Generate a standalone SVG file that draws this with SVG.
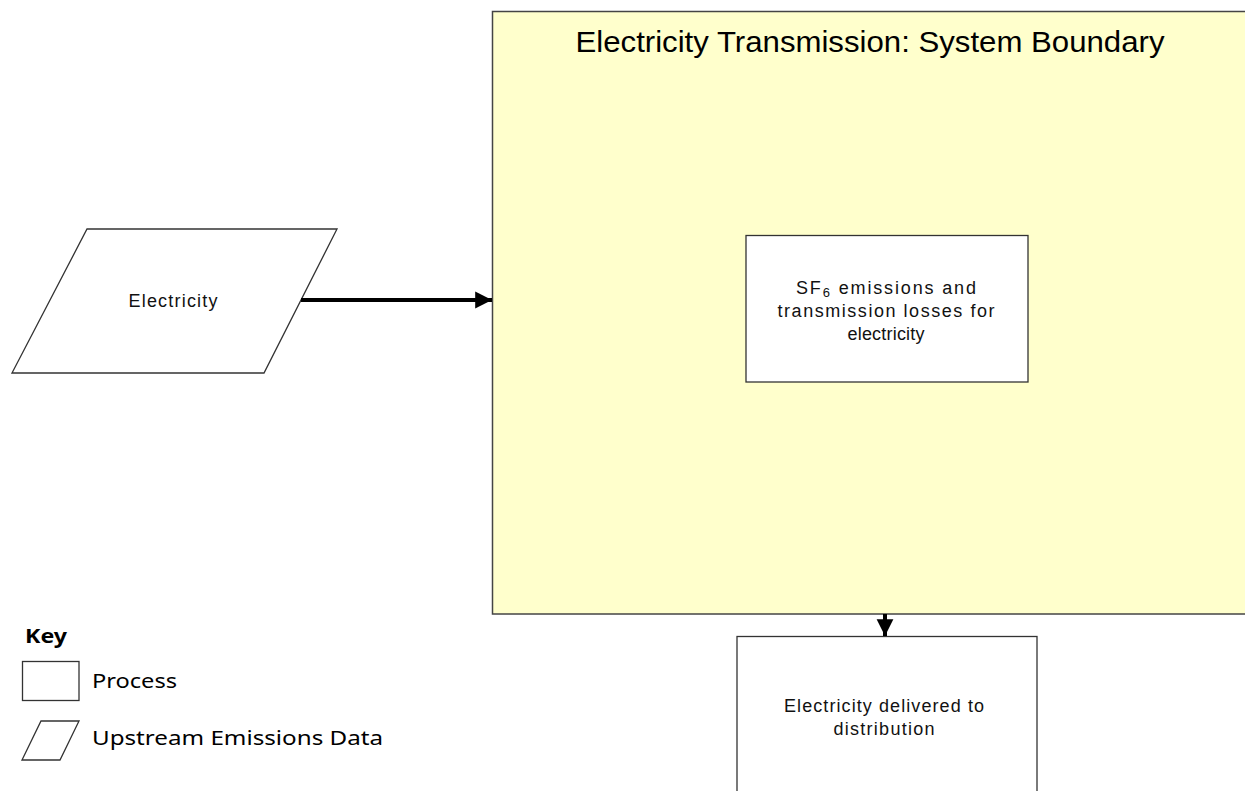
<svg xmlns="http://www.w3.org/2000/svg" width="1245" height="791" viewBox="0 0 1245 791">
<defs>
<style>
.shape{fill:#ffffff;stroke:#333333;stroke-width:1.3}
.boundary{fill:#ffffcc;stroke:#444444;stroke-width:1.5}
.t{font-family:"Liberation Sans",Arial,sans-serif;font-size:18px;fill:#111111;text-anchor:middle}
.title{font-family:"Liberation Sans",Arial,sans-serif;font-size:30px;fill:#000000;text-anchor:middle}
.key{font-family:"Noto Sans","Open Sans",sans-serif;font-size:19px;fill:#000000}
.conn{stroke:#000000;stroke-width:4;fill:none}
</style>
<marker id="arrow" viewBox="0 0 10 10" refX="10" refY="5" markerWidth="4.2" markerHeight="4.6" markerUnits="strokeWidth" orient="auto">
<path d="M0,0 L10,5 L0,10 Z" fill="#000000"/>
</marker>
</defs>
<rect width="1245" height="791" fill="#ffffff"/>

<g id="boundary">
<rect class="boundary" x="492.5" y="11.5" width="760" height="602.5"/>
<text class="title" x="870" y="52" textLength="589" lengthAdjust="spacingAndGlyphs">Electricity Transmission: System Boundary</text>
</g>

<g id="electricity">
<polygon class="shape" points="87,229 337,229 264,373 12,373"/>
<text class="t" x="173" y="307" textLength="89" lengthAdjust="spacing">Electricity</text>
</g>

<g id="sf6">
<rect class="shape" x="746" y="235.5" width="282" height="146.5"/>
<text class="t" y="294"><tspan x="886" textLength="180" lengthAdjust="spacing">SF<tspan font-size="13" dy="3">6</tspan><tspan dy="-3"> emissions and</tspan></tspan></text>
<text class="t" x="886" y="317" textLength="217" lengthAdjust="spacing">transmission losses for</text>
<text class="t" x="886" y="340" textLength="77" lengthAdjust="spacing">electricity</text>
</g>

<g id="delivered">
<rect class="shape" x="737" y="636.5" width="300" height="160"/>
<text class="t" x="884" y="712" textLength="200" lengthAdjust="spacing">Electricity delivered to</text>
<text class="t" x="884" y="735" textLength="101" lengthAdjust="spacing">distribution</text>
</g>

<g id="connectors">
<line class="conn" x1="301" y1="300" x2="492" y2="300" marker-end="url(#arrow)"/>
<line class="conn" x1="885" y1="614" x2="885" y2="636" marker-end="url(#arrow)"/>
</g>

<g id="legend">
<text class="key" x="25" y="643" font-weight="bold" textLength="42" lengthAdjust="spacingAndGlyphs">Key</text>
<rect class="shape" x="22.5" y="661.5" width="56.5" height="39"/>
<text class="key" x="92" y="688" textLength="85" lengthAdjust="spacingAndGlyphs">Process</text>
<polygon class="shape" points="41,721 79,721 60,760 22,760"/>
<text class="key" x="92" y="745" textLength="291" lengthAdjust="spacingAndGlyphs">Upstream Emissions Data</text>
</g>
</svg>
